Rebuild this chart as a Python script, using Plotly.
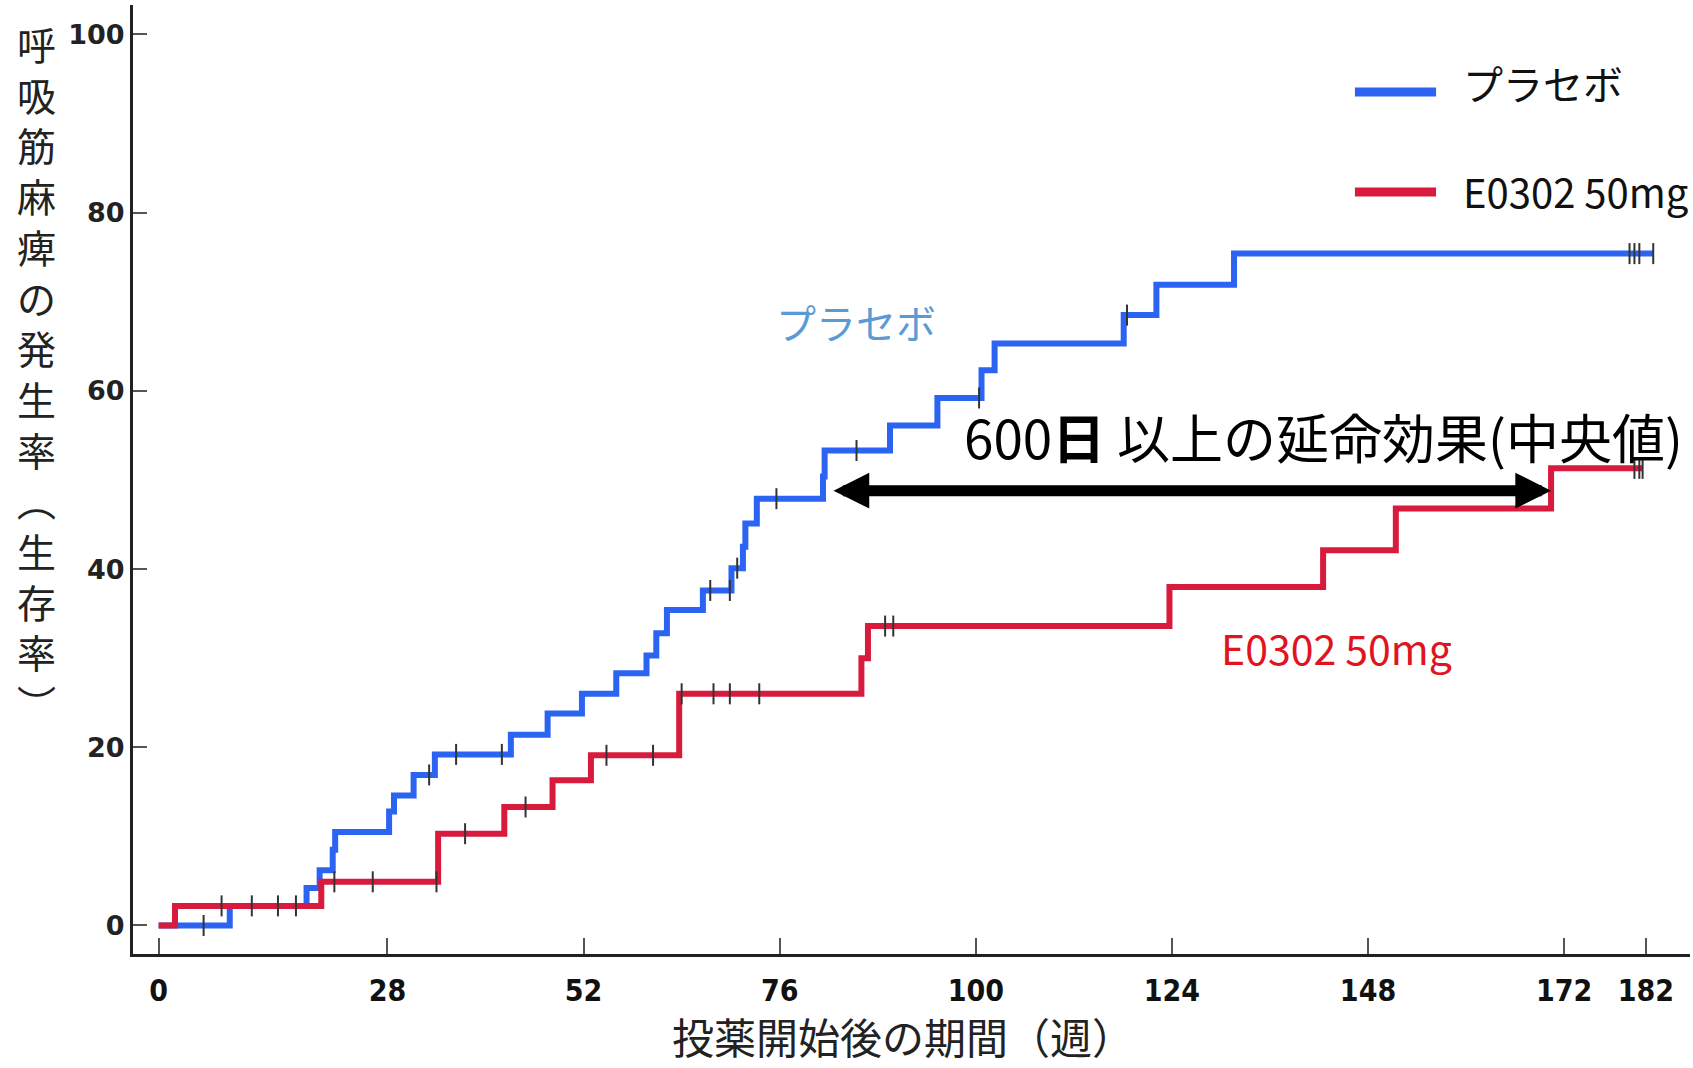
import numpy as np
import plotly.graph_objects as go

# ---------------- data ----------------
week_ticks = [0, 28, 52, 76, 100, 124, 148, 172, 182]
pct_ticks = [0, 20, 40, 60, 80, 100]

placebo_label = "プラセボ"
e0302_label = "E0302 50mg"

# Kaplan-Meier style step curves: value holds from each week until the next
placebo_weeks = [0, 8.7, 18.1, 19.7, 21.3, 21.6, 28.2, 28.8, 31.2, 33.8, 43.1, 47.6,
                 51.8, 56.0, 59.7, 60.9, 62.2, 66.6, 70.1, 71.5, 71.8, 73.2, 81.3,
                 81.5, 89.5, 95.3, 100.7, 102.3, 118.1, 122.1, 131.6, 182.9]
placebo_pct = [0, 2.2, 4.2, 6.2, 8.5, 10.5, 12.8, 14.6, 16.9, 19.2, 21.4, 23.8,
               26.0, 28.3, 30.3, 32.8, 35.4, 37.6, 40.1, 42.5, 45.1, 47.9, 50.4,
               53.3, 56.1, 59.2, 62.3, 65.3, 68.5, 71.9, 75.4, 75.4]

e0302_weeks = [0, 2.0, 19.9, 34.2, 42.3, 48.2, 52.9, 63.7, 86.0, 86.8, 123.7,
               142.5, 151.4, 170.4, 181.6]
e0302_pct = [0, 2.2, 4.9, 10.3, 13.3, 16.3, 19.1, 26.0, 30.0, 33.6, 38.0,
             42.1, 46.8, 51.3, 51.3]

# censoring marks (weeks)
placebo_censor_weeks = [5.5, 33.1, 36.4, 42.0, 67.5, 69.9, 70.8, 75.6, 85.4,
                        100.4, 118.5, 180.0, 180.6, 181.2, 182.9]
e0302_censor_weeks = [7.7, 11.4, 14.6, 16.8, 21.5, 26.2, 34.0, 37.5, 44.9, 54.8,
                      60.5, 64.0, 67.9, 69.9, 73.5, 88.9, 89.9, 180.6, 181.2, 181.6]

annotation_text = "600<b>日</b> 以上の延命効果(中央値)"
x_title = "投薬開始後の期間（週）"
y_title_chars = ["呼", "吸", "筋", "麻", "痺", "の", "発", "生", "率",
                 "︵", "生", "存", "率", "︶"]

BLUE = "#2B63F2"
RED = "#D81B3C"
LIGHT_BLUE = "#5B9BD5"
LABEL_RED = "#E0141E"


def step_value(weeks, pct, t):
    w = np.asarray(weeks)
    p = np.asarray(pct)
    idx = np.searchsorted(w, np.asarray(t), side="right") - 1
    return p[np.clip(idx, 0, len(p) - 1)]


def median_week(weeks, pct):
    for w, p in zip(weeks, pct):
        if p >= 50:
            return w
    return None


fig = go.Figure()
fig.add_trace(go.Scatter(x=placebo_weeks, y=placebo_pct, mode="lines",
                         line=dict(shape="hv", color=BLUE, width=6),
                         name=placebo_label, showlegend=False))
fig.add_trace(go.Scatter(x=e0302_weeks, y=e0302_pct, mode="lines",
                         line=dict(shape="hv", color=RED, width=6),
                         name=e0302_label, showlegend=False))
censor_marker = dict(symbol="line-ns", size=15, color="#333",
                     line=dict(width=2, color="#333"))
fig.add_trace(go.Scatter(x=placebo_censor_weeks,
                         y=step_value(placebo_weeks, placebo_pct, placebo_censor_weeks),
                         mode="markers", marker=censor_marker, showlegend=False))
fig.add_trace(go.Scatter(x=e0302_censor_weeks,
                         y=step_value(e0302_weeks, e0302_pct, e0302_censor_weeks),
                         mode="markers", marker=censor_marker, showlegend=False))

cjk = "Noto Sans CJK JP"
med_p = median_week(placebo_weeks, placebo_pct)
med_e = median_week(e0302_weeks, e0302_pct)

annotations = [
    # double headed arrow between medians
    dict(x=med_e, y=48.8, ax=med_p, ay=48.8, xref="x", yref="y", axref="x", ayref="y",
         text="", showarrow=True, arrowhead=2, startarrowhead=2, arrowside="end+start",
         arrowwidth=11, arrowsize=0.65, startarrowsize=0.65, arrowcolor="black",
         standoff=0, startstandoff=9),
    dict(x=142.5, y=54.9, xref="x", yref="y", text=annotation_text, showarrow=False,
         font=dict(family=cjk, size=53, color="black"), xanchor="center", yanchor="middle"),
    dict(x=85.3, y=67.7, xref="x", yref="y", text=placebo_label, showarrow=False,
         font=dict(family=cjk, size=40, color=LIGHT_BLUE), xanchor="center", yanchor="middle"),
    dict(x=144.2, y=31.3, xref="x", yref="y", text=e0302_label, showarrow=False,
         font=dict(family=cjk, size=41, color=LABEL_RED), xanchor="center", yanchor="middle"),
    # legend texts
    dict(x=0.8530, y=0.9178, xref="paper", yref="paper", text=placebo_label, showarrow=False,
         font=dict(family=cjk, size=40, color="#111"), xanchor="left", yanchor="middle"),
    dict(x=0.8530, y=0.8040, xref="paper", yref="paper", text=e0302_label, showarrow=False,
         font=dict(family=cjk, size=40, color="#111"), xanchor="left", yanchor="middle"),
    # axis titles
    dict(x=0.4945, y=-0.1203, xref="paper", yref="paper", text=x_title, showarrow=False,
         font=dict(family=cjk, size=42, color="#222"), xanchor="center", yanchor="bottom"),
    dict(x=-0.0617, y=0.6128, xref="paper", yref="paper", text="<br>".join(y_title_chars),
         showarrow=False, font=dict(family=cjk, size=39, color="#222"),
         xanchor="center", yanchor="middle"),
]

shapes = [
    dict(type="line", xref="paper", yref="paper", x0=0.7848, x1=0.8369, y0=0.9083, y1=0.9083,
         line=dict(color=BLUE, width=9)),
    dict(type="line", xref="paper", yref="paper", x0=0.7848, x1=0.8369, y0=0.8030, y1=0.8030,
         line=dict(color=RED, width=9)),
]

fig.update_layout(
    width=1693, height=1068,
    margin=dict(l=133, r=3, t=5, b=114),
    paper_bgcolor="white", plot_bgcolor="white",
    showlegend=False,
    annotations=annotations,
    shapes=shapes,
    xaxis=dict(range=[-3.14, 187.4], tickmode="array", tickvals=week_ticks,
               ticktext=[str(v) for v in week_ticks], ticks="inside", ticklen=16,
               tickwidth=1.5, tickcolor="#555", showline=True, linecolor="#222",
               linewidth=3, showgrid=False, zeroline=False, ticklabelstandoff=8,
               tickfont=dict(family="Liberation Sans Narrow, DejaVu Sans Condensed, Liberation Sans",
                             size=30, color="#111", weight="bold")),
    yaxis=dict(range=[-3.2, 103.3], tickmode="array", tickvals=pct_ticks,
               ticktext=[str(v) for v in pct_ticks], ticks="inside", ticklen=14,
               tickwidth=1.5, tickcolor="#555", showline=True, linecolor="#222",
               linewidth=3, showgrid=False, zeroline=False, ticklabelstandoff=0,
               tickfont=dict(family="DejaVu Sans", size=27, color="#222", weight="bold")),
)

fig.write_html("out.html", config={"displayModeBar": False},
               post_script="document.body.style.margin='0';")
